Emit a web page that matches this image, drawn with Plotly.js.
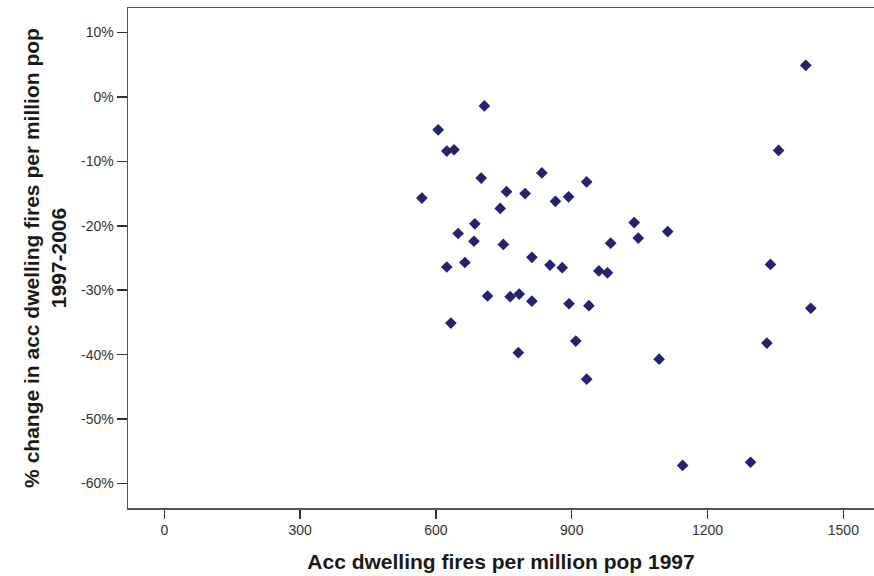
<!DOCTYPE html>
<html>
<head>
<meta charset="utf-8">
<script src="https://cdn.plot.ly/plotly-3.0.1.min.js"></script>
<style>html,body{margin:0;padding:0;background:#fff;}#chart{width:874px;height:576px;}</style>
</head>
<body>
<div id="chart"></div>
<script>
// Acc dwelling fires per million pop 1997
var firesPerMillion1997 = [707, 605, 624, 640, 700, 834, 569, 756, 797, 933, 864, 893, 742, 686, 649, 684, 749, 1038, 1112, 1047, 986, 812, 624, 664, 852, 879, 960, 979, 714, 764, 784, 812, 894, 938, 633, 909, 782, 1093, 933, 1339, 1428, 1331, 1145, 1295, 1417, 1357];
// % change 1997-2006
var pctChange = [-1.4, -5.1, -8.4, -8.2, -12.6, -11.8, -15.7, -14.7, -15.0, -13.2, -16.2, -15.5, -17.3, -19.7, -21.2, -22.4, -22.9, -19.5, -20.9, -21.9, -22.7, -24.9, -26.4, -25.7, -26.1, -26.5, -27.0, -27.3, -30.9, -31.0, -30.6, -31.7, -32.1, -32.4, -35.1, -37.9, -39.7, -40.7, -43.8, -26.0, -32.8, -38.2, -57.2, -56.7, 4.9, -8.3];
var yTicks = [10, 0, -10, -20, -30, -40, -50, -60];
var xTicks = [0, 300, 600, 900, 1200, 1500];

var trace = {
  x: firesPerMillion1997,
  y: pctChange,
  type: 'scatter',
  mode: 'markers',
  marker: {symbol: 'diamond', size: 9, color: '#23236e', line: {width: 0}},
  hoverinfo: 'x+y'
};

var titleFont = {size: 21, color: '#1a1a1a', family: 'Liberation Sans, Arial, sans-serif', weight: 'bold'};

var layout = {
  width: 874, height: 576,
  margin: {l: 128, r: 0, t: 8, b: 68},
  paper_bgcolor: '#fff', plot_bgcolor: '#fff',
  showlegend: false,
  font: {family: 'Liberation Sans, Arial, sans-serif', color: '#333'},
  xaxis: {
    range: [-80.2, 1567.7],
    tickvals: xTicks,
    ticktext: xTicks.map(String),
    ticks: 'outside', ticklen: 9, tickwidth: 1.5, tickcolor: '#333',
    showgrid: false, zeroline: false,
    showline: true, linecolor: '#555', linewidth: 1.5, mirror: true,
    tickfont: {size: 14, color: '#333'},
    title: {text: 'Acc dwelling fires per million pop 1997', font: titleFont, standoff: 17}
  },
  yaxis: {
    range: [-63.8, 13.8],
    tickvals: yTicks,
    ticktext: yTicks.map(function(v){return v + '%';}),
    ticks: 'outside', ticklen: 10, tickwidth: 1.5, tickcolor: '#333',
    showgrid: false, zeroline: false,
    showline: true, linecolor: '#555', linewidth: 1.5,
    tickfont: {size: 14, color: '#333'},
    title: {text: '% change in acc dwelling fires per million pop<br>1997-2006', font: titleFont, standoff: 8}
  }
};

Plotly.newPlot('chart', [trace], layout, {displayModeBar: false, staticPlot: true});
</script>
</body>
</html>
